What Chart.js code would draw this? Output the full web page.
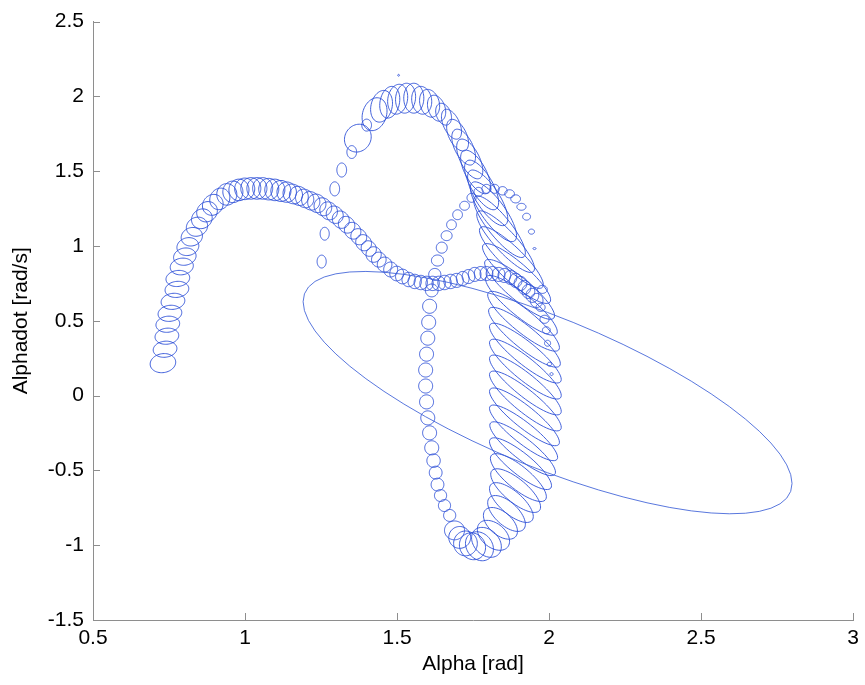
<!DOCTYPE html>
<html>
<head>
<meta charset="utf-8">
<script src="https://cdn.jsdelivr.net/npm/chart.js@4"></script>
<style>
  html, body { margin: 0; padding: 0; background: #fff; }
  #wrap { width: 865px; height: 685px; }
</style>
</head>
<body>
<div id="wrap"><canvas id="grafico-elipses" width="865" height="685"></canvas></div>
<script>
// estimate tracks: [alpha, alphadot, sigma alpha, sigma alphadot, correlation]
const trackA = [
  [0.730, 0.217, 0.042, 0.064, 0.1], [0.737, 0.310, 0.039, 0.054, 0.1], [0.743, 0.397, 0.039, 0.054, 0.1],
  [0.746, 0.477, 0.039, 0.054, 0.1], [0.753, 0.550, 0.039, 0.054, 0.1], [0.763, 0.630, 0.039, 0.054, 0.1],
  [0.776, 0.710, 0.039, 0.054, 0.1], [0.779, 0.783, 0.039, 0.054, 0.1], [0.792, 0.863, 0.038, 0.056, 0.1],
  [0.802, 0.929, 0.037, 0.058, 0.1], [0.812, 0.996, 0.036, 0.060, 0.1], [0.825, 1.062, 0.035, 0.062, 0.1],
  [0.842, 1.129, 0.035, 0.064, 0.1], [0.858, 1.182, 0.034, 0.066, 0.1], [0.875, 1.229, 0.034, 0.068, 0.1],
  [0.894, 1.275, 0.034, 0.070, 0.1], [0.917, 1.315, 0.033, 0.072, 0.1], [0.940, 1.345, 0.033, 0.072, 0.0],
  [0.960, 1.362, 0.033, 0.072, 0.0], [0.980, 1.375, 0.033, 0.072, 0.0], [0.999, 1.382, 0.033, 0.072, 0.0],
  [1.019, 1.385, 0.033, 0.072, 0.0], [1.039, 1.385, 0.033, 0.072, 0.0], [1.058, 1.385, 0.033, 0.072, 0.0],
  [1.078, 1.380, 0.033, 0.072, 0.0], [1.098, 1.375, 0.033, 0.072, 0.0], [1.118, 1.368, 0.033, 0.070, 0.0],
  [1.137, 1.360, 0.032, 0.068, 0.0], [1.157, 1.348, 0.032, 0.066, -0.1], [1.177, 1.335, 0.031, 0.064, -0.1],
  [1.196, 1.318, 0.030, 0.062, -0.1], [1.216, 1.302, 0.030, 0.062, -0.1], [1.236, 1.285, 0.030, 0.062, -0.1],
  [1.256, 1.262, 0.029, 0.060, -0.1], [1.275, 1.235, 0.029, 0.060, -0.1], [1.295, 1.209, 0.028, 0.058, -0.1],
  [1.315, 1.176, 0.028, 0.058, -0.1], [1.334, 1.142, 0.027, 0.056, -0.1], [1.354, 1.102, 0.027, 0.056, -0.1],
  [1.374, 1.062, 0.026, 0.054, -0.1], [1.390, 1.022, 0.026, 0.054, -0.1], [1.407, 0.983, 0.025, 0.052, -0.1],
  [1.423, 0.943, 0.025, 0.052, 0.0], [1.440, 0.909, 0.024, 0.050, 0.0], [1.459, 0.876, 0.024, 0.050, 0.0],
  [1.479, 0.843, 0.023, 0.050, 0.0], [1.499, 0.816, 0.023, 0.049, 0.0], [1.518, 0.796, 0.023, 0.049, 0.0],
  [1.538, 0.776, 0.022, 0.048, 0.0], [1.558, 0.763, 0.022, 0.048, 0.0], [1.578, 0.756, 0.022, 0.048, 0.0],
  [1.597, 0.750, 0.022, 0.048, 0.0], [1.617, 0.750, 0.022, 0.048, 0.0], [1.637, 0.750, 0.022, 0.048, 0.0],
  [1.656, 0.756, 0.022, 0.048, 0.0], [1.676, 0.763, 0.022, 0.048, 0.0], [1.696, 0.770, 0.022, 0.047, 0.0],
  [1.716, 0.783, 0.021, 0.047, 0.0], [1.735, 0.796, 0.021, 0.047, 0.0], [1.755, 0.810, 0.021, 0.047, 0.0],
  [1.775, 0.816, 0.021, 0.047, 0.0], [1.794, 0.816, 0.021, 0.047, 0.0], [1.814, 0.816, 0.021, 0.047, 0.0],
  [1.834, 0.810, 0.021, 0.047, 0.0], [1.853, 0.803, 0.021, 0.047, 0.0], [1.873, 0.790, 0.021, 0.047, 0.0],
  [1.890, 0.770, 0.021, 0.047, 0.0], [1.906, 0.750, 0.021, 0.047, 0.0], [1.919, 0.723, 0.021, 0.047, 0.0],
  [1.932, 0.696, 0.021, 0.047, 0.0], [1.945, 0.670, 0.021, 0.047, 0.0], [1.959, 0.636, 0.021, 0.047, 0.0]
];

const trackB = [
  [1.252, 0.896, 0.015, 0.043, 0], [1.262, 1.082, 0.015, 0.043, 0], [1.295, 1.382, 0.016, 0.047, 0],
  [1.318, 1.508, 0.016, 0.047, 0], [1.351, 1.628, 0.016, 0.043, 0], [1.371, 1.721, 0.044, 0.093, 0.1],
  [1.400, 1.808, 0.016, 0.040, 0], [1.426, 1.881, 0.041, 0.110, 0.2], [1.449, 1.934, 0.036, 0.106, 0.2],
  [1.476, 1.961, 0.033, 0.106, 0.2], [1.502, 1.981, 0.033, 0.100, 0.15], [1.528, 1.988, 0.033, 0.100, 0.1],
  [1.555, 1.988, 0.033, 0.100, 0], [1.581, 1.974, 0.033, 0.093, -0.1], [1.607, 1.954, 0.033, 0.093, -0.2],
  [1.630, 1.921, 0.030, 0.087, -0.3], [1.653, 1.881, 0.026, 0.073, -0.3], [1.679, 1.814, 0.033, 0.100, -0.5],
  [1.699, 1.741, 0.036, 0.106, -0.5], [1.719, 1.661, 0.039, 0.120, -0.55], [1.739, 1.582, 0.043, 0.133, -0.6],
  [1.758, 1.495, 0.049, 0.146, -0.65], [1.778, 1.408, 0.056, 0.166, -0.7], [1.798, 1.322, 0.066, 0.186, -0.75],
  [1.817, 1.229, 0.076, 0.200, -0.8], [1.837, 1.129, 0.085, 0.206, -0.85], [1.857, 1.029, 0.095, 0.206, -0.87],
  [1.876, 0.923, 0.105, 0.206, -0.88], [1.893, 0.816, 0.112, 0.200, -0.88], [1.903, 0.710, 0.115, 0.200, -0.88],
  [1.909, 0.603, 0.118, 0.200, -0.88], [1.916, 0.497, 0.118, 0.200, -0.88], [1.919, 0.390, 0.118, 0.200, -0.88],
  [1.922, 0.284, 0.118, 0.200, -0.88], [1.922, 0.177, 0.118, 0.200, -0.88], [1.922, 0.071, 0.118, 0.200, -0.88],
  [1.922, -0.036, 0.118, 0.200, -0.88], [1.919, -0.142, 0.115, 0.193, -0.88], [1.916, -0.249, 0.112, 0.186, -0.88],
  [1.913, -0.355, 0.108, 0.180, -0.87], [1.906, -0.455, 0.102, 0.173, -0.85], [1.899, -0.548, 0.092, 0.160, -0.8],
  [1.890, -0.635, 0.082, 0.146, -0.75], [1.876, -0.715, 0.072, 0.133, -0.7], [1.860, -0.788, 0.062, 0.120, -0.6],
  [1.840, -0.854, 0.056, 0.106, -0.5], [1.817, -0.934, 0.053, 0.100, -0.4], [1.794, -0.981, 0.049, 0.100, -0.3],
  [1.771, -1.007, 0.046, 0.097, -0.2], [1.748, -1.007, 0.043, 0.090, -0.1], [1.725, -0.988, 0.039, 0.083, 0],
  [1.706, -0.948, 0.036, 0.073, 0], [1.689, -0.901, 0.033, 0.063, 0]
];

const trackC = [
  [1.673, -0.801, 0.020, 0.040, 0], [1.656, -0.735, 0.020, 0.040, 0], [1.643, -0.668, 0.020, 0.040, 0],
  [1.633, -0.595, 0.021, 0.043, 0], [1.627, -0.515, 0.021, 0.043, 0], [1.620, -0.435, 0.022, 0.045, 0],
  [1.614, -0.349, 0.023, 0.047, 0], [1.607, -0.249, 0.023, 0.047, 0], [1.601, -0.149, 0.023, 0.047, 0],
  [1.597, -0.042, 0.023, 0.047, 0], [1.594, 0.064, 0.023, 0.047, 0], [1.594, 0.171, 0.023, 0.047, 0],
  [1.597, 0.277, 0.023, 0.047, 0], [1.601, 0.384, 0.023, 0.047, 0], [1.604, 0.490, 0.023, 0.047, 0],
  [1.607, 0.597, 0.023, 0.047, 0], [1.614, 0.703, 0.021, 0.043, 0], [1.624, 0.810, 0.020, 0.040, 0],
  [1.633, 0.903, 0.020, 0.037, 0], [1.647, 0.989, 0.018, 0.037, 0], [1.663, 1.069, 0.018, 0.033, 0],
  [1.679, 1.142, 0.016, 0.033, 0], [1.699, 1.209, 0.016, 0.033, 0], [1.722, 1.269, 0.016, 0.030, 0],
  [1.745, 1.322, 0.015, 0.030, 0], [1.768, 1.362, 0.015, 0.030, 0], [1.794, 1.382, 0.015, 0.030, 0],
  [1.821, 1.382, 0.015, 0.030, 0], [1.847, 1.369, 0.015, 0.028, 0], [1.870, 1.349, 0.016, 0.027, 0],
  [1.890, 1.315, 0.016, 0.027, 0], [1.909, 1.262, 0.015, 0.023, 0], [1.926, 1.196, 0.013, 0.023, 0],
  [1.942, 1.096, 0.010, 0.017, 0], [1.952, 0.983, 0.005, 0.007, 0],
  [1.978, 0.710, 0.016, 0.027, 0], [1.972, 0.590, 0.015, 0.027, 0], [1.985, 0.510, 0.015, 0.027, 0],
  [1.991, 0.437, 0.013, 0.023, 0], [1.995, 0.350, 0.010, 0.020, 0], [2.001, 0.210, 0.007, 0.013, 0],
  [2.008, 0.144, 0.005, 0.010, 0], [1.505, 2.141, 0.003, 0.006, 0]
];

const initialGuess = [
  [1.995, 0.020, 0.804, 0.810, -0.75]
];

const xTicks = [0.5, 1, 1.5, 2, 2.5, 3];
const yTicks = [-1.5, -1, -0.5, 0, 0.5, 1, 1.5, 2, 2.5];

const toPoints = rows => rows.map(r => ({ x: r[0], y: r[1], sa: r[2], sb: r[3], rho: r[4] }));

const fonte = { family: "'Liberation Sans', Arial, Helvetica, sans-serif", size: 21 };
const corElipse = 'rgba(45, 80, 215, 0.9)';
const corEixo = '#8e8e8e';

// draws each estimate as its uncertainty ellipse, through the chart scales
const elipses = {
  id: 'elipses',
  afterDatasetsDraw(chart) {
    const { ctx, chartArea: a, scales: { x, y } } = chart;
    ctx.save();
    ctx.beginPath();
    ctx.rect(a.left, a.top, a.right - a.left, a.bottom - a.top);
    ctx.clip();
    chart.data.datasets.forEach(ds => {
      ctx.strokeStyle = ds.borderColor;
      ctx.lineWidth = ds.borderWidth;
      ds.data.forEach(p => {
        const k = Math.sqrt(1 - p.rho * p.rho);
        ctx.beginPath();
        for (let i = 0; i <= 60; i++) {
          const t = i / 60 * 2 * Math.PI;
          const px = x.getPixelForValue(p.x + p.sa * Math.cos(t));
          const py = y.getPixelForValue(p.y + p.sb * (p.rho * Math.cos(t) + k * Math.sin(t)));
          if (i === 0) ctx.moveTo(px, py); else ctx.lineTo(px, py);
        }
        ctx.closePath();
        ctx.stroke();
      });
    });
    ctx.restore();
  }
};

// inward tick marks on the two axis lines
const ticksInternos = {
  id: 'ticksInternos',
  afterDraw(chart) {
    const { ctx, chartArea: a, scales: { x, y } } = chart;
    ctx.save();
    ctx.strokeStyle = corEixo;
    ctx.lineWidth = 1;
    ctx.beginPath();
    xTicks.forEach(v => {
      const px = Math.round(x.getPixelForValue(v)) + 0.5;
      ctx.moveTo(px, a.bottom);
      ctx.lineTo(px, a.bottom - 7);
    });
    yTicks.forEach(v => {
      const py = Math.round(y.getPixelForValue(v)) + 0.5;
      ctx.moveTo(a.left, py);
      ctx.lineTo(a.left + 7, py);
    });
    ctx.stroke();
    ctx.restore();
  }
};

const ctx = document.getElementById('grafico-elipses');
new Chart(ctx, {
  type: 'scatter',
  data: {
    datasets: [
      { label: 'trackA', data: toPoints(trackA), borderColor: corElipse, borderWidth: 1, pointRadius: 0 },
      { label: 'trackB', data: toPoints(trackB), borderColor: corElipse, borderWidth: 1, pointRadius: 0 },
      { label: 'trackC', data: toPoints(trackC), borderColor: corElipse, borderWidth: 1, pointRadius: 0 },
      { label: 'initialGuess', data: toPoints(initialGuess), borderColor: 'rgba(60, 95, 215, 0.85)', borderWidth: 1, pointRadius: 0 }
    ]
  },
  options: {
    responsive: false,
    animation: false,
    layout: { padding: { left: 0, right: 11, top: 19, bottom: 0 } },
    plugins: { legend: { display: false }, tooltip: { enabled: false } },
    scales: {
      x: {
        type: 'linear',
        min: 0.5,
        max: 3,
        afterBuildTicks: s => { s.ticks = xTicks.map(v => ({ value: v })); },
        afterFit: s => { s.height = 65; },
        ticks: { color: '#000', font: fonte, padding: 6, maxRotation: 0, callback: v => String(v) },
        grid: { display: true, drawOnChartArea: false, drawTicks: false },
        border: { display: true, color: corEixo, width: 1 },
        title: { display: true, text: 'Alpha [rad]', color: '#000', font: fonte, padding: { top: 0, bottom: 8 } }
      },
      y: {
        type: 'linear',
        min: -1.5,
        max: 2.5,
        afterBuildTicks: s => { s.ticks = yTicks.map(v => ({ value: v })); },
        afterFit: s => { s.width = 93; },
        ticks: { color: '#000', font: fonte, padding: 9, callback: v => String(v) },
        grid: { display: true, drawOnChartArea: false, drawTicks: false },
        border: { display: true, color: corEixo, width: 1 },
        title: { display: true, text: 'Alphadot [rad/s]', color: '#000', font: fonte, padding: { top: 9, bottom: 0 } }
      }
    }
  },
  plugins: [elipses, ticksInternos]
});
</script>
</body>
</html>
